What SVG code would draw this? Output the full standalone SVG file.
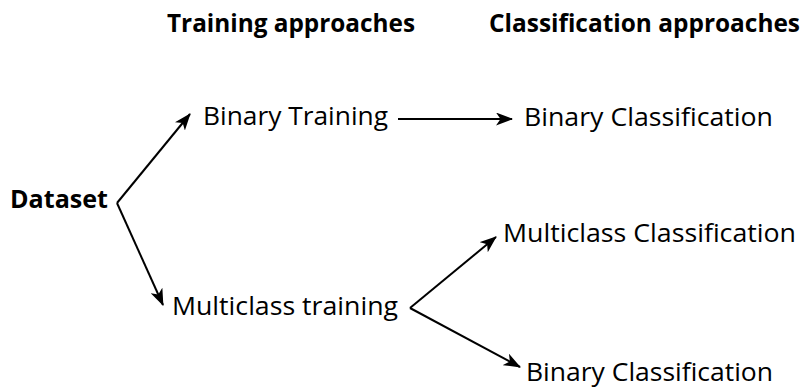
<svg xmlns="http://www.w3.org/2000/svg" width="810" height="389" viewBox="0 0 810 389">
<defs>
<style>
text{font-family:"Open Sans","Noto Sans","Liberation Sans",sans-serif;fill:#000}
.h{font-weight:bold;font-size:25px}
.d{font-weight:bold;font-size:25px}
.n{font-size:25px}
.c line{stroke:#000;stroke-width:2;marker-end:url(#ah)}
</style>
<marker id="ah" viewBox="0 0 17 13" refX="16" refY="6.5" markerWidth="17" markerHeight="13" markerUnits="userSpaceOnUse" orient="auto">
<path d="M0,0 L17,6.5 L0,13 L4.5,6.5 Z" fill="#000"/>
</marker>
</defs>
<rect width="810" height="389" fill="#fff"/>
<g id="header-training"><text class="h" x="167" y="32" textLength="248" lengthAdjust="spacingAndGlyphs">Training approaches</text></g>
<g id="header-classification"><text class="h" x="800" y="32" text-anchor="end" textLength="311" lengthAdjust="spacingAndGlyphs">Classification approaches</text></g>
<g id="dataset"><text class="d" x="10" y="208" textLength="98" lengthAdjust="spacingAndGlyphs">Dataset</text></g>
<g id="binary-training"><text class="n" x="203" y="125" textLength="185" lengthAdjust="spacingAndGlyphs">Binary Training</text></g>
<g id="multiclass-training"><text class="n" x="172" y="315" textLength="226" lengthAdjust="spacingAndGlyphs">Multiclass training</text></g>
<g id="binary-classification-1"><text class="n" x="524" y="126" textLength="249" lengthAdjust="spacingAndGlyphs">Binary Classification</text></g>
<g id="multiclass-classification"><text class="n" x="503" y="242" textLength="293" lengthAdjust="spacingAndGlyphs">Multiclass Classification</text></g>
<g id="binary-classification-2"><text class="n" x="526" y="381" textLength="247" lengthAdjust="spacingAndGlyphs">Binary Classification</text></g>
<g id="connectors" class="c">
<line x1="117" y1="203" x2="190" y2="114"/>
<line x1="117" y1="203" x2="163" y2="305"/>
<line x1="398" y1="119" x2="512" y2="119"/>
<line x1="410" y1="308" x2="496" y2="237"/>
<line x1="410" y1="308" x2="520" y2="367"/>
</g>
</svg>
